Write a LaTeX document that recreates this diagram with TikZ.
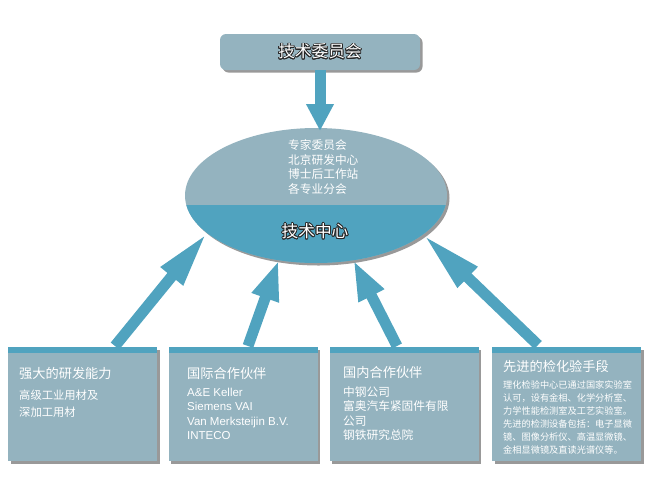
\documentclass[tikz,border=0pt]{standalone}
\usepackage{fontspec}
\setmainfont{Noto Sans CJK SC}
\newfontfamily\latinfont{Liberation Sans}
\usepackage{contour}
\contourlength{0.8pt}
\usetikzlibrary{shapes.geometric,shadows,arrows.meta}
\definecolor{lightbg}{RGB}{148,179,191}
\definecolor{tealbar}{RGB}{80,163,191}
\begin{document}
\begin{tikzpicture}[x=1pt,y=-1pt,
  shadowed/.style={drop shadow={shadow xshift=2.5pt,shadow yshift=-2.5pt,opacity=0.4,fill=black}},
  panel/.style={fill=lightbg, minimum width=149pt, minimum height=114pt, inner sep=0pt, outer sep=0pt, shadowed},
  flow/.style={line width=11pt, draw=tealbar, -{Triangle[length=#1, width=26pt]}},
  ttl/.style={font=\fontsize{13.2}{15}\selectfont, text=white, anchor=base west, inner sep=0pt},
  body/.style={text=white, anchor=base west, inner sep=0pt, align=left},
  bigtitle/.style={font=\fontsize{16.7}{20}\selectfont, text=white},
]
\useasboundingbox (0,0) rectangle (650,488);

% top box
\node[fill=lightbg, rounded corners=6pt, minimum width=200pt, minimum height=36pt, inner sep=0pt, outer sep=0pt, shadowed, bigtitle] (top) at (320,52) {\contour{black!85}{技术委员会}};

% ellipse
\node[ellipse, minimum width=262pt, minimum height=135pt, inner sep=0pt, outer sep=0pt, fill=lightbg, shadowed] (ell) at (316,195.5) {};
\begin{scope}
  \clip (ell.center) ellipse [x radius=131pt, y radius=67.5pt];
  \fill[tealbar] (180,205) rectangle (455,270);
\end{scope}
\node[body, font=\fontsize{11.7}{14.7}\selectfont] (ellt) at (288,193.5) {专家委员会\\北京研发中心\\博士后工作站\\各专业分会};
\node[bigtitle] (tc) at (315,231.7) {\contour{black!85}{技术中心}};

% arrows
\coordinate (vt) at (320,131);
\coordinate (t1) at (115,346);
\coordinate (t2) at (248,346);
\coordinate (t3) at (397,346);
\coordinate (t4) at (538,345);
\draw[flow=27pt] (top.south) -- (vt);
\draw[flow=56pt] (t1) -- (ell.199);
\draw[flow=40pt] (t2) -- (ell.240.6);
\draw[flow=40pt] (t3) -- (ell.300.6);
\draw[flow=62pt] (t4) -- (ell.340.4);

% bottom boxes
\node[panel] (b1) at (82.5,404) {};
\node[panel] (b2) at (243,404) {};
\node[panel] (b3) at (404,404) {};
\node[panel] (b4) at (566.5,404) {};
\foreach \b in {b1,b2,b3,b4}{
  \fill[tealbar] (\b.north west) rectangle ([yshift=-6pt]\b.north east);
}

\node[ttl] (b1t) at (19,378) {强大的研发能力};
\node[body, font=\fontsize{11.3}{16.7}\selectfont] (b1b) at (19,416) {高级工业用材及\\深加工用材};

\node[ttl] (b2t) at (187,378) {国际合作伙伴};
\node[body, font=\latinfont\fontsize{11.5}{14.5}\selectfont] (b2b) at (187,439.5) {A\&E Keller\\Siemens VAI\\Van Merksteijin B.V.\\INTECO};

\node[ttl] (b3t) at (343,377) {国内合作伙伴};
\node[body, font=\fontsize{11.7}{14.5}\selectfont] (b3b) at (343,439.5) {中钢公司\\富奥汽车紧固件有限\\公司\\钢铁研究总院};

\node[ttl] (b4t) at (503,371.7) {先进的检化验手段};
\node[body, font=\fontsize{9.2}{13}\selectfont] (b4b) at (503,453.5) {理化检验中心已通过国家实验室\\认可，设有金相、化学分析室、\\力学性能检测室及工艺实验室。\\先进的检测设备包括：电子显微\\镜、图像分析仪、高温显微镜、\\金相显微镜及直读光谱仪等。};
\end{tikzpicture}
\end{document}
